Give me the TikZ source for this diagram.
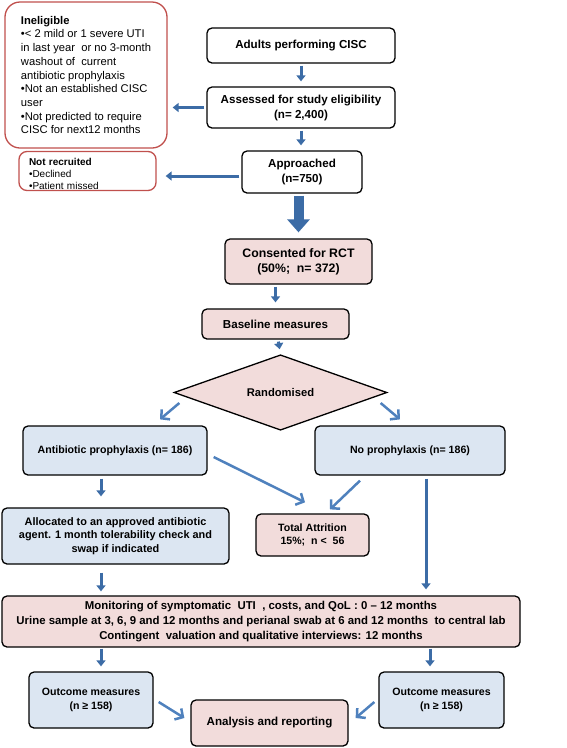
\documentclass[tikz,border=0pt]{standalone}
\usepackage{fontspec}
\setmainfont{Liberation Sans}
\usetikzlibrary{shapes.geometric,arrows.meta,calc}
\definecolor{pinkfill}{HTML}{F2DCDB}
\definecolor{bluefill}{HTML}{DCE6F2}
\definecolor{redline}{HTML}{C0504D}
\definecolor{darkarrow}{HTML}{3C6CA6}
\definecolor{lightarrow}{HTML}{4F81BD}

\begin{document}
\begin{tikzpicture}[x=1pt,y=-1pt,
	box/.style={draw,line width=1.3pt,rounded corners=5pt,align=center,inner sep=2pt,font=\fontsize{11.6}{15}\selectfont\bfseries},
	pinkbox/.style={box,fill=pinkfill},
	bluebox/.style={box,fill=bluefill},
	redbox/.style={draw=redline,line width=1.3pt,align=left},
	darr/.style={draw=darkarrow,line width=3pt,-{Triangle[width=9pt,length=6pt]}},
	bigarr/.style={draw=darkarrow,line width=10pt,-{Triangle[width=22pt,length=13pt]}},
	diag/.style={draw=lightarrow,line width=2.5pt,-{Straight Barb[length=6pt,width=13pt]}}]
	\useasboundingbox (0,0) rectangle (567,748);
	% screening
	\node[redbox,rounded corners=15pt,minimum width=162pt,minimum height=146pt,inner xsep=8pt,font=\fontsize{11.2}{13.7}\selectfont] (inel) at (86,75)
		{\textbf{Ineligible}\\•< 2 mild or 1 severe UTI\\in last year\ \ or no 3-month\\washout of\ \ current\\antibiotic prophylaxis\\•Not an established CISC\\user\\•Not predicted to require\\CISC for next12 months};
	\node[box,minimum width=188pt,minimum height=35pt] (adults) at (301,45.5) {Adults performing CISC};
	\node[box,minimum width=188pt,minimum height=41pt] (assess) at (301,107.5) {Assessed for study eligibility\\(n= 2,400)};
	\node[box,minimum width=120pt,minimum height=42pt] (approach) at (302,172) {Approached\\(n=750)};
	\node[redbox,rounded corners=8pt,minimum width=137pt,minimum height=39pt,text width=117pt,inner xsep=10pt,inner ysep=0pt,font=\fontsize{10}{12.3}\selectfont] (notrec) at (87.5,171)
		{\rule{0pt}{13pt}\textbf{Not recruited}\\•Declined\\•Patient missed};
	% trial
	\node[pinkbox,minimum width=147pt,minimum height=45pt,font=\fontsize{12.3}{15}\selectfont\bfseries] (consent) at (298.5,261.5) {Consented for RCT\\(50\%;\ \ n= 372)};
	\node[pinkbox,minimum width=147pt,minimum height=30pt] (base) at (275.5,324) {Baseline measures};
	\node[diamond,draw,fill=pinkfill,line width=1.3pt,minimum width=213pt,minimum height=51pt,inner sep=0pt,font=\fontsize{11.2}{15}\selectfont\bfseries] (rand) at (280.5,392.5) {Randomised};
	\node[bluebox,minimum width=184pt,minimum height=49pt,font=\fontsize{10.6}{14}\selectfont\bfseries] (antib) at (115,450.5) {Antibiotic prophylaxis (n= 186)};
	\node[bluebox,minimum width=190pt,minimum height=49pt,font=\fontsize{10.6}{14}\selectfont\bfseries] (noproph) at (410,450.5) {No prophylaxis (n= 186)};
	\node[bluebox,minimum width=227pt,minimum height=56pt,font=\fontsize{10.9}{13.3}\selectfont\bfseries] (alloc) at (115.5,536) {Allocated to an approved antibiotic\\agent. 1 month tolerability check and\\swap if indicated};
	\node[pinkbox,minimum width=113pt,minimum height=42pt,font=\fontsize{10.6}{13.7}\selectfont\bfseries] (attr) at (312.5,535) {Total Attrition\\15\%;\ \ n <\ \ 56};
	\node[pinkbox,minimum width=518pt,minimum height=51pt,font=\fontsize{11.4}{15}\selectfont\bfseries] (monit) at (261,621.5)
		{Monitoring of symptomatic\ \ UTI\ \ , costs, and QoL : 0 -- 12 months\\Urine sample at 3, 6, 9 and 12 months and perianal swab at 6 and 12 months\ \ to central lab\\Contingent\ \ valuation and qualitative interviews: 12 months};
	\node[bluebox,minimum width=124pt,minimum height=56pt,font=\fontsize{10.6}{14.3}\selectfont\bfseries] (outL) at (91,700) {Outcome measures\\(n ≥ 158)};
	\node[bluebox,minimum width=125pt,minimum height=56pt,font=\fontsize{10.6}{14.3}\selectfont\bfseries] (outR) at (441.5,700) {Outcome measures\\(n ≥ 158)};
	\node[pinkbox,minimum width=157pt,minimum height=46pt] (anal) at (269.5,723) {Analysis and reporting};
	% arrows
	\draw[darr,shorten <=2pt,shorten >=5pt] (adults) -- (assess);
	\draw[darr,shorten <=2pt,shorten >=5pt] (assess) -- (approach.north -| assess);
	\draw[darr,shorten <=2pt,shorten >=5pt] (assess.west) -- (assess.west -| inel.east);
	\draw[darr,shorten <=2pt,shorten >=9pt] ($(approach.west)+(0,4)$) -- ($(approach.west -| notrec.east)+(0,4)$);
	\draw[bigarr,shorten <=2pt,shorten >=6pt] (consent.north |- approach.south) -- (consent.north);
	\draw[darr,shorten <=2pt,shorten >=6pt] (consent.south -| base) -- (base);
	\draw[darr,shorten <=2pt,shorten >=5pt] (base) -- (rand.north);
	\draw[diag] ($(rand.west)+(6,10.5)$) -- ($(antib.north)+(45,-6)$);
	\draw[diag] ($(rand.east)+(-7,10.5)$) -- ($(noproph.north)+(-10,-6)$);
	\draw[darr] ($(antib.south)+(-14,3)$) -- ($(alloc.north)+(-14.5,-11)$);
	\draw[diag] ($(antib.east)+(6,6.5)$) -- ($(attr.north)+(-7.5,-11)$);
	\draw[diag] ($(noproph.south)+(-50,5)$) -- ($(attr.north)+(17.5,-4)$);
	\draw[darr] ($(noproph.south)+(16,3)$) -- ($(monit.north -| noproph.south)+(16,-6)$);
	\draw[darr] ($(alloc.south)+(-14.5,8)$) -- ($(monit.north)+(-160,-4)$);
	\draw[darr] ($(monit.south)+(-160,1)$) -- ($(outL.north)+(10,-5)$);
	\draw[darr] ($(monit.south)+(169,1)$) -- ($(outR.north)+(-11.5,-5)$);
	\draw[diag] ($(outL.east)+(5,2)$) -- ($(anal.west)+(-6,-5)$);
	\draw[diag] ($(outR.west)+(-4,2)$) -- ($(anal.east)+(7,-5)$);
\end{tikzpicture}
\end{document}
